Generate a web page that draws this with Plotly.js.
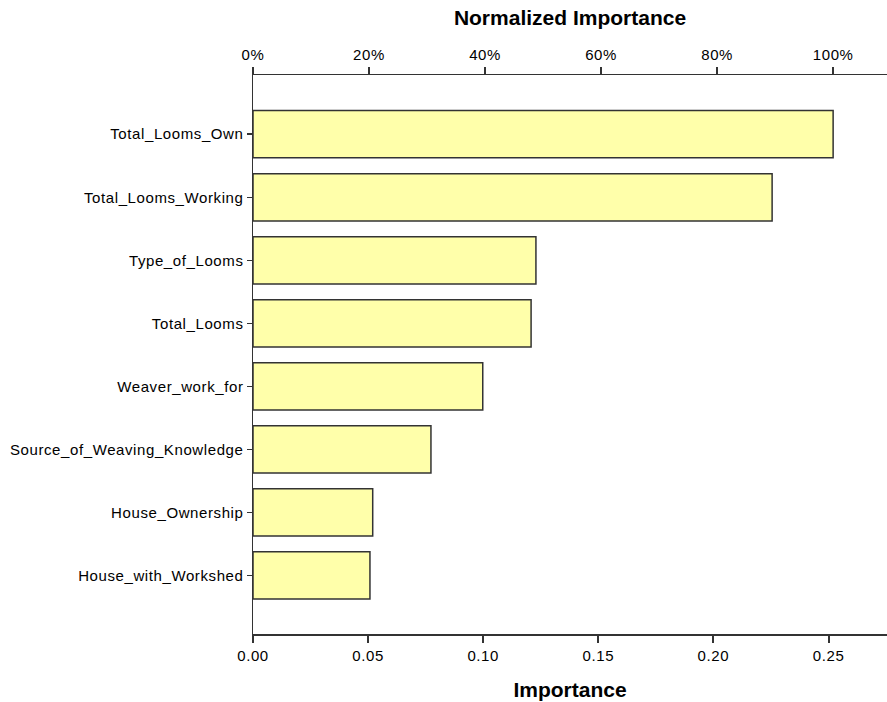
<!DOCTYPE html>
<html>
<head>
<meta charset="utf-8">
<script src="https://cdn.plot.ly/plotly-3.0.1.min.js"></script>
<style>
html,body{margin:0;padding:0;background:#fff;}
#chart{width:887px;height:702px;}
#chart .xtick text, #chart .x2tick text, #chart .ytick text{letter-spacing:0.6px;}
</style>
</head>
<body>
<div id="chart"></div>
<script>
var categories = ["Total_Looms_Own","Total_Looms_Working","Type_of_Looms","Total_Looms","Weaver_work_for","Source_of_Weaving_Knowledge","House_Ownership","House_with_Workshed"];
var importance = [0.2520,0.2255,0.1229,0.1208,0.0998,0.0773,0.0520,0.0508];
var bottomTicks = [0,0.05,0.10,0.15,0.20,0.25];
var bottomTickText = ["0.00","0.05","0.10","0.15","0.20","0.25"];
var topTicks = [0,20,40,60,80,100];
var topTickText = ["0%","20%","40%","60%","80%","100%"];

var maxImp = Math.max.apply(null, importance);
var normalized = importance.map(function(v){return v/maxImp*100;});
var xMax = 0.2754;

var fontFam = "Liberation Sans, Arial, sans-serif";

var traces = [
  {
    type: "bar", orientation: "h",
    y: categories, x: importance,
    width: 0.75,
    marker: {color: "#ffffaa", line: {color: "#333333", width: 1.5}},
    hoverinfo: "x+y", showlegend: false
  },
  {
    type: "scatter", mode: "markers",
    y: categories, x: normalized,
    xaxis: "x2",
    marker: {opacity: 0, size: 1},
    hoverinfo: "skip", showlegend: false
  }
];

var layout = {
  width: 887, height: 702,
  margin: {l: 253, r: 0, t: 75, b: 68, pad: 0},
  paper_bgcolor: "#ffffff", plot_bgcolor: "#ffffff",
  font: {family: fontFam, size: 15, color: "#000000"},
  showlegend: false,
  xaxis: {
    range: [0, xMax],
    tickvals: bottomTicks, ticktext: bottomTickText,
    ticks: "outside", ticklen: 7, tickwidth: 2, tickcolor: "#333333",
    showline: true, linecolor: "#333333", linewidth: 1.5,
    showgrid: false, zeroline: false,
    ticklabelstandoff: 0,
    tickfont: {family: fontFam, size: 15, color: "#000"},
    title: {text: "<b>Importance</b>", font: {family: fontFam, size: 21, color: "#000"}, standoff: 20}
  },
  xaxis2: {
    overlaying: "x", side: "top",
    range: [0, xMax / maxImp * 100],
    tickvals: topTicks, ticktext: topTickText,
    ticks: "outside", ticklen: 7, tickwidth: 2, tickcolor: "#333333",
    showline: true, linecolor: "#333333", linewidth: 1.5,
    showgrid: false, zeroline: false,
    ticklabelstandoff: 1,
    tickfont: {family: fontFam, size: 15, color: "#000"},
    title: {text: "<b>Normalized Importance</b>", font: {family: fontFam, size: 21, color: "#000"}, standoff: 14}
  },
  yaxis: {
    autorange: false,
    range: [7.93, -0.94],
    type: "category",
    ticks: "outside", ticklen: 5, tickwidth: 1.5, tickcolor: "#333333",
    showline: true, linecolor: "#333333", linewidth: 1.5,
    showgrid: false, zeroline: false,
    ticklabelstandoff: 0,
    tickfont: {family: fontFam, size: 15, color: "#000"}
  }
};

Plotly.newPlot("chart", traces, layout, {displayModeBar: false, staticPlot: true});
</script>
</body>
</html>
